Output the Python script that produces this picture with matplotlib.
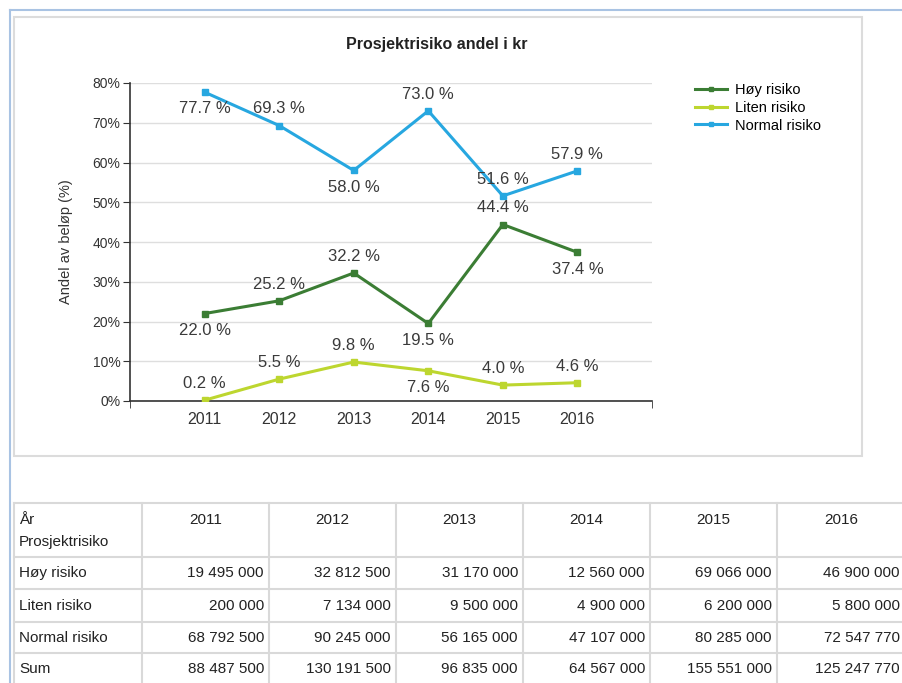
import matplotlib.pyplot as plt
from matplotlib.lines import Line2D
from matplotlib.patches import Rectangle

plt.rcParams['font.family'] = ['Liberation Sans', 'DejaVu Sans']

# chart data: share of project amount per risk class (%)
years = [2011, 2012, 2013, 2014, 2015, 2016]
hoy_pct = [22.0, 25.2, 32.2, 19.5, 44.4, 37.4]
liten_pct = [0.2, 5.5, 9.8, 7.6, 4.0, 4.6]
normal_pct = [77.7, 69.3, 58.0, 73.0, 51.6, 57.9]

# label placement per point: +1 above, -1 below
hoy_side = [-1, 1, 1, -1, 1, -1]
liten_side = [1, 1, 1, -1, 1, 1]
normal_side = [-1, 1, -1, 1, 1, 1]

# table below the chart (kr)
row_names = ['Høy risiko', 'Liten risiko', 'Normal risiko', 'Sum']
hoy_kr = [19495000, 32812500, 31170000, 12560000, 69066000, 46900000]
liten_kr = [200000, 7134000, 9500000, 4900000, 6200000, 5800000]
normal_kr = [68792500, 90245000, 56165000, 47107000, 80285000, 72547770]
sum_kr = [88487500, 130191500, 96835000, 64567000, 155551000, 125247770]

c_hoy = '#3b7d34'
c_liten = '#bdd62f'
c_normal = '#27a7e0'

W, H = 903, 683
fig = plt.figure(figsize=(W / 100, H / 100), dpi=100)

# page layer in pixel coordinates
bg = fig.add_axes([0, 0, 1, 1])
bg.set_xlim(0, W)
bg.set_ylim(H, 0)
bg.axis('off')
bg.plot([10, 10], [10, H], color='#a9c3e3', lw=1.5)
bg.plot([10, W], [10, 10], color='#a9c3e3', lw=1.5)
bg.add_patch(Rectangle((14, 17), 848, 439, fill=False, ec='#dcdcdc', lw=1.5))

# chart
ax = fig.add_axes([130 / W, (H - 401) / H, 522 / W, 318 / H])
series = [(hoy_pct, hoy_side, c_hoy, 'Høy risiko'),
          (liten_pct, liten_side, c_liten, 'Liten risiko'),
          (normal_pct, normal_side, c_normal, 'Normal risiko')]
for vals, sides, col, name in series:
    ax.plot(years, vals, color=col, lw=2.2, marker='s', ms=4.5, label=name, zorder=3)
    for x, v, s in zip(years, vals, sides):
        ax.annotate(f'{v:.1f} %', (x, v), xytext=(0, 12 * s), textcoords='offset points',
                    ha='center', va='center', fontsize=12, color='#3a3a3a', zorder=4)

ax.set_xlim(2010, 2017)
ax.set_ylim(0, 80)
ax.set_yticks(range(0, 81, 10))
ax.set_yticklabels([f'{v}%' for v in range(0, 81, 10)])
ax.set_xticks(years)
ax.set_xticks([2010, 2017], minor=True)
ax.tick_params(axis='x', which='major', length=0, pad=8, labelsize=11.5, labelcolor='#333333')
ax.tick_params(axis='x', which='minor', length=5, color='#333333')
ax.tick_params(axis='y', length=5, color='#333333', labelsize=10, labelcolor='#333333', pad=2)
ax.grid(axis='y', color='#dedede', lw=1)
ax.set_axisbelow(True)
for sp in ['top', 'right']:
    ax.spines[sp].set_visible(False)
for sp in ['left', 'bottom']:
    ax.spines[sp].set_color('#333333')
    ax.spines[sp].set_linewidth(1.2)
ax.set_ylabel('Andel av beløp (%)', fontsize=10.5, color='#333333', labelpad=14)

fig.text(437 / W, 1 - 45 / H, 'Prosjektrisiko andel i kr', ha='center', va='center',
         fontsize=11.5, fontweight='bold', color='#222222')

handles = [Line2D([], [], color=c, lw=2.2, marker='s', ms=3) for c in (c_hoy, c_liten, c_normal)]
fig.legend(handles, [s[3] for s in series], loc='upper left',
           bbox_to_anchor=(688 / W, 1 - 76 / H), frameon=False, fontsize=10.5,
           handlelength=2.2, handletextpad=0.5, labelspacing=0.25, borderpad=0)

# table
col_x = [14, 142, 269, 396, 523, 650, 777, W + 2]
row_y = [503, 557, 589, 622, 653, H + 2]
grid_c = '#d9d9d9'
for x in col_x:
    bg.plot([x, x], [row_y[0], H], color=grid_c, lw=1.5)
for y in row_y[:-1]:
    bg.plot([col_x[0], W], [y, y], color=grid_c, lw=1.5)

def fmt(n):
    return f'{n:,}'.replace(',', ' ')

tkw = dict(fontsize=11, color='#222222')
bg.text(19, 520, 'År', ha='left', va='center', **tkw)
bg.text(19, 542, 'Prosjektrisiko', ha='left', va='center', **tkw)
for i, yr in enumerate(years):
    cx = (col_x[i + 1] + col_x[i + 2]) / 2
    bg.text(cx, 520, str(yr), ha='center', va='center', **tkw)
rows = [hoy_kr, liten_kr, normal_kr, sum_kr]
for r, (name, vals) in enumerate(zip(row_names, rows)):
    cy = (row_y[r + 1] + row_y[r + 2]) / 2 if r < 3 else 669
    bg.text(19, cy, name, ha='left', va='center', **tkw)
    for i, v in enumerate(vals):
        bg.text(col_x[i + 2] - 5, cy, fmt(v), ha='right', va='center', **tkw)

fig.savefig('out.png', dpi=100)
